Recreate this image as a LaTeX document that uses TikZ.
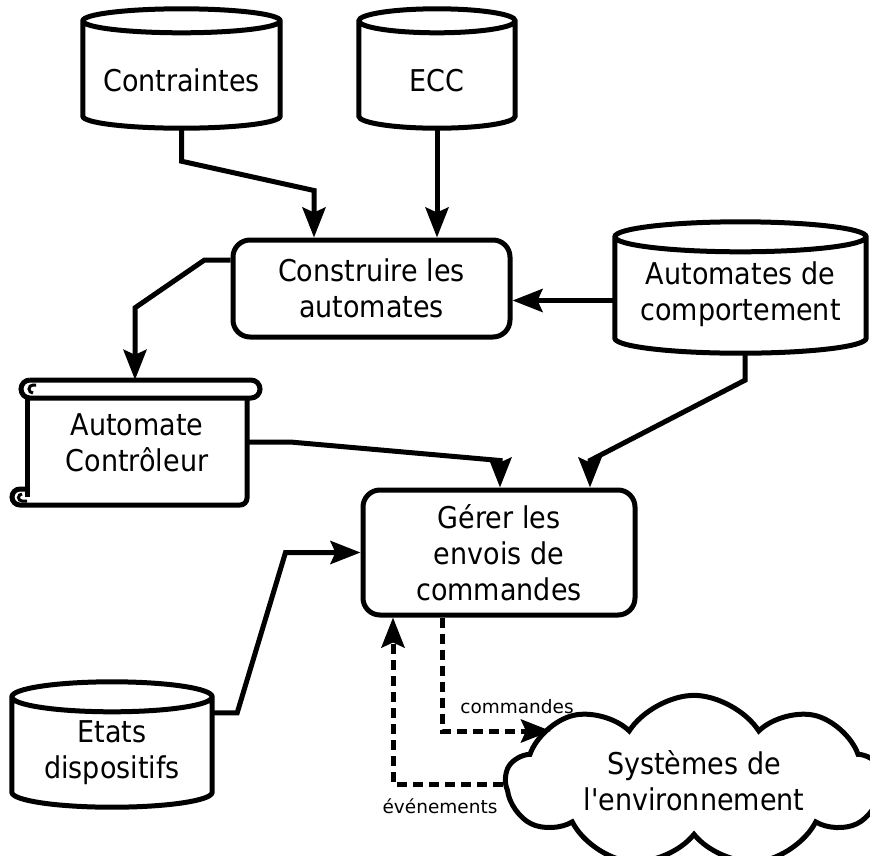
\documentclass[tikz,border=0pt]{standalone}
\usepackage{fontspec}
\setmainfont{DejaVu Sans}
\newfontfamily\tallfont{DejaVu Sans}[FakeStretch=0.9]
\usetikzlibrary{arrows.meta,shapes.symbols,calc}
% #1 node, #2 ellipse half-height, #3 extra depth below the node
\newcommand\cylout[3]{%
  \draw[shapeline] let \p1=(#1.north west), \p2=(#1.south east), \n1={(\x2-\x1)/2} in
   (\x1,\y1+#2pt) -- (\x1,\y2-#3pt+#2pt) arc[start angle=180,end angle=360,x radius=\n1,y radius=#2pt]
   -- (\x2,\y1+#2pt) arc[start angle=0,end angle=180,x radius=\n1,y radius=#2pt] -- cycle
   (\x1,\y1+#2pt) arc[start angle=180,end angle=360,x radius=\n1,y radius=#2pt];}
\begin{document}
\begin{tikzpicture}[x=1pt,y=1pt,
  shapeline/.style={line width=5pt},
  txt/.style={font=\tallfont\fontsize{30}{36}\selectfont, align=center, inner sep=0pt},
  cylbox/.style={txt, draw=none, rectangle},
  procbox/.style={txt, draw, line width=5pt, rounded corners=17pt, rectangle},
  conn/.style={line width=5pt, -{Stealth[length=30pt,width=23pt,inset=5pt]}},
  dconn/.style={conn, dash pattern=on 10pt off 6pt},
  small/.style={font=\fontsize{18.5}{20}\selectfont, inner sep=0pt}
]
\useasboundingbox (0,0) rectangle (870,-855);
\fill[white] (0,0) rectangle (870,-855);

% cylinders
\node[cylbox, minimum width=197pt, minimum height=95pt] (contr) at (181.5,-80.5) {Contraintes};
\cylout{contr}{12}{0}
\node[cylbox, minimum width=156pt, minimum height=95pt] (ecc) at (437,-80.5) {ECC};
\cylout{ecc}{12}{0}
\node[cylbox, minimum width=251pt, minimum height=84pt] (autc) at (740.5,-294) {Automates de\\comportement};
\cylout{autc}{15}{17}
\node[cylbox, minimum width=200pt, minimum height=82pt] (etats) at (112,-753) {Etats\\dispositifs};
\cylout{etats}{15}{13}

% process boxes
\node[procbox, minimum width=277pt, minimum height=97pt] (constr) at (371.5,-288.5) {Construire les\\automates};
\node[procbox, minimum width=272pt, minimum height=125pt] (gerer) at (499,-552.5) {Gérer les\\envois de\\commandes};

% scroll
\node[cylbox, minimum width=220pt, minimum height=125pt] (ctrl) at (137,-442.5) {Automate\\Contrôleur};
\draw[shapeline] (30,-380) -- (251,-380) arc[start angle=90,end angle=-90,radius=9] -- (30,-398)
  arc[start angle=270,end angle=90,radius=9];
\draw[line width=3pt] (33,-393) arc[start angle=270,end angle=90,radius=4] -- (36,-385);
\draw[shapeline] (27,-398) -- (27,-497);
\draw[shapeline] (247,-398) -- (247,-498) arc[start angle=0,end angle=-90,radius=7] -- (20,-505)
  arc[start angle=270,end angle=90,radius=8] -- (27,-489);
\draw[line width=3pt] (22,-494) arc[start angle=90,end angle=270,radius=3.5] -- (27,-501);

% cloud
\node[cloud, cloud puffs=9, cloud puff arc=115, aspect=2.6, draw, line width=5pt,
  txt, minimum width=376pt, minimum height=136pt] (cloud) at (694,-781) {Systèmes de\\l'environnement};

% connectors
\coordinate (aw) at ([yshift=-6.5pt]autc.west);
\coordinate (cw) at ([yshift=28.5pt]constr.west);
\coordinate (evs) at ([yshift=-3pt]cloud.west);
\coordinate (cmdtip) at (551,-731);
\draw[conn] (contr.south) -- ++(0,-33pt) -- ([xshift=-57.5pt,yshift=47pt]constr.north) -- ([xshift=-57.5pt]constr.north);
\draw[conn] (ecc.south) -- (constr.north -| ecc.south);
\draw[conn] (aw) -- (aw -| constr.east);
\draw[conn] (cw) -- ++(-26pt,0) -- ([xshift=-2pt,yshift=72pt]ctrl.north) -- ([xshift=-2pt]ctrl.north);
\draw[conn] ([yshift=0.5pt]ctrl.east) -- ++(43pt,0) -- ([xshift=1pt,yshift=27pt]gerer.north) -- ([xshift=1pt]gerer.north);
\draw[conn] ([xshift=4.5pt,yshift=-17pt]autc.south) -- ++(0,-27pt) -- ([xshift=91pt,yshift=27pt]gerer.north) -- ([xshift=91pt]gerer.north);
\draw[conn] ([yshift=-1pt]etats.north east) -- ++(25pt,0) -- ([xshift=-75pt]gerer.west) -- (gerer.west);

\draw[dconn] ($(gerer.south)+(-57pt,0)$) |- (cmdtip);
\draw[dconn] (evs) -| ($(gerer.south)+(-106pt,0)$);

\node[small] (lcmd) at (517,-707) {commandes};
\node[small] (levt) at (440,-806) {événements};
\end{tikzpicture}
\end{document}
